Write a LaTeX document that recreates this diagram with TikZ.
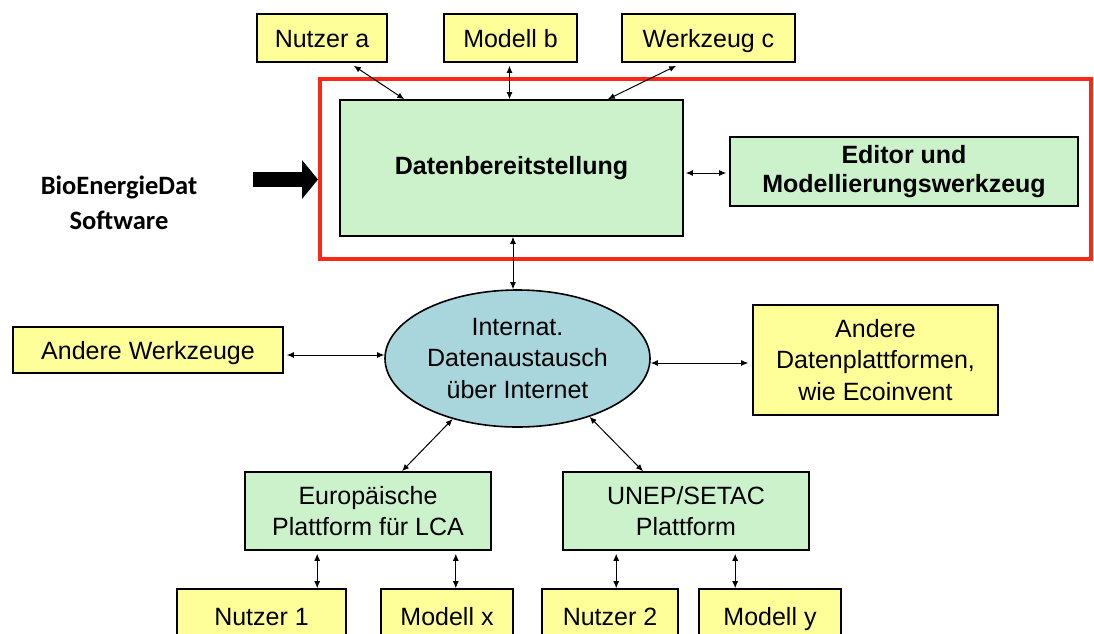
\documentclass[tikz,border=0pt]{standalone}
\usepackage{fontspec}
\setmainfont{Liberation Sans}
\newfontfamily\labelfont{Carlito}
\usetikzlibrary{arrows.meta,shapes.geometric}
\definecolor{boxyellow}{RGB}{255,255,153}
\definecolor{boxgreen}{RGB}{204,242,204}
\definecolor{cloudblue}{RGB}{168,214,220}
\definecolor{framered}{RGB}{250,40,20}
\tikzset{
	base/.style={draw, line width=1.6pt, inner sep=0pt, align=center, font=\fontsize{25}{31.5}\selectfont},
	ybox/.style={base, fill=boxyellow},
	gbox/.style={base, fill=boxgreen},
	oneline/.style={text height=18pt, text depth=0pt},
	link/.style={line width=1pt, {Latex[length=7pt,width=6pt]}-{Latex[length=7pt,width=6pt]}},
}
\begin{document}
\begin{tikzpicture}[x=1pt, y=-1pt]
		\clip (0,0) rectangle (1094,633);
		\fill[white] (0,0) rectangle (1094,633);
	
		\node[draw=framered, line width=4pt, minimum width=771pt, minimum height=180pt] (frame) at (705.5,169) {};
	
		\node[ybox, oneline, minimum width=130pt, minimum height=48pt] (nutzera) at (322,38) {Nutzer a};
		\node[ybox, oneline, minimum width=133pt, minimum height=48pt] (modellb) at (510.5,38) {Modell b};
		\node[ybox, oneline, minimum width=173pt, minimum height=48pt] (werkzeugc) at (708.5,38) {Werkzeug c};
	
		\node[gbox, minimum width=343pt, minimum height=136pt, font=\fontsize{25}{30}\selectfont\bfseries] (daten) at (511.5,168) {Datenbereitstellung};
		\node[gbox, minimum width=348pt, minimum height=69pt, font=\fontsize{25}{29.5}\selectfont\bfseries] (editor) at (904,171.5) {Editor und\\Modellierungswerkzeug};
	
		\node[align=center, font=\labelfont\fontsize{26.5}{35}\selectfont\bfseries] (software) at (119,203) {BioEnergieDat\\Software};
		\coordinate (tail) at (253,179.5);
		\draw[line width=15pt, -{Triangle[length=16pt,width=38pt]}] (tail) -- (tail -| frame.west);
	
		\node[base, ellipse, fill=cloudblue, minimum width=265pt, minimum height=137pt] (inet) at (517.5,358.5) {Internat.\\Datenaustausch\\über Internet};
	
		\node[ybox, oneline, minimum width=270pt, minimum height=46pt] (andwerk) at (148,350) {Andere Werkzeuge};
		\node[ybox, minimum width=245pt, minimum height=110pt] (anddaten) at (875.5,360) {Andere\\Datenplattformen,\\wie Ecoinvent};
	
		\node[gbox, minimum width=246pt, minimum height=78pt] (europa) at (368,511) {Europäische\\Plattform für LCA};
		\node[gbox, minimum width=246pt, minimum height=78pt] (unep) at (686,511) {UNEP/SETAC\\Plattform};
	
		\node[ybox, oneline, minimum width=169pt, minimum height=54pt] (nutzer1) at (261.5,616) {Nutzer 1};
		\node[ybox, oneline, minimum width=132pt, minimum height=54pt] (modellx) at (447,616) {Modell x};
		\node[ybox, oneline, minimum width=136pt, minimum height=54pt] (nutzer2) at (610,616) {Nutzer 2};
		\node[ybox, oneline, minimum width=142pt, minimum height=54pt] (modelly) at (770,616) {Modell y};
	
		\draw[link] ([xshift=-34pt,yshift=-3pt]nutzera.south east) -- ([xshift=65pt]daten.north west);
		\draw[link] ([xshift=-1pt,yshift=-3pt]modellb.south) -- ([xshift=-1pt]modellb.south |- daten.north);
		\draw[link] ([xshift=55pt,yshift=-3pt]werkzeugc.south west) -- ([xshift=-76pt]daten.north east);
		\draw[link] ([xshift=1.5pt]daten.south) -- ([xshift=1.5pt]daten.south |- inet.north);
		\draw[link] ([xshift=2pt,yshift=-1.5pt]daten.east |- editor.west) -- ([xshift=-3pt,yshift=-1.5pt]editor.west);
	
		\draw[link] ([xshift=3pt,yshift=-5pt]andwerk.east) -- ([yshift=-5pt]andwerk.east -| inet.west);
		\draw[link] ([yshift=-4.5pt]inet.east) -- ([xshift=-4pt,yshift=-4.5pt]inet.east -| anddaten.west);
		\draw[link] (inet.223) -- ([xshift=34pt]europa.north);
		\draw[link] (inet.321) -- ([xshift=-43pt]unep.north);
	
		\draw[link] ([xshift=73pt,yshift=-3pt]europa.south west) -- ([xshift=73pt]europa.south west |- nutzer1.north);
		\draw[link] ([xshift=-36pt,yshift=-3pt]europa.south east) -- ([xshift=-36pt]europa.south east |- modellx.north);
		\draw[link] ([xshift=54pt,yshift=-3pt]unep.south west) -- ([xshift=54pt]unep.south west |- nutzer2.north);
		\draw[link] ([xshift=173pt,yshift=-3pt]unep.south west) -- ([xshift=173pt]unep.south west |- modelly.north);
	\end{tikzpicture}
\end{document}
